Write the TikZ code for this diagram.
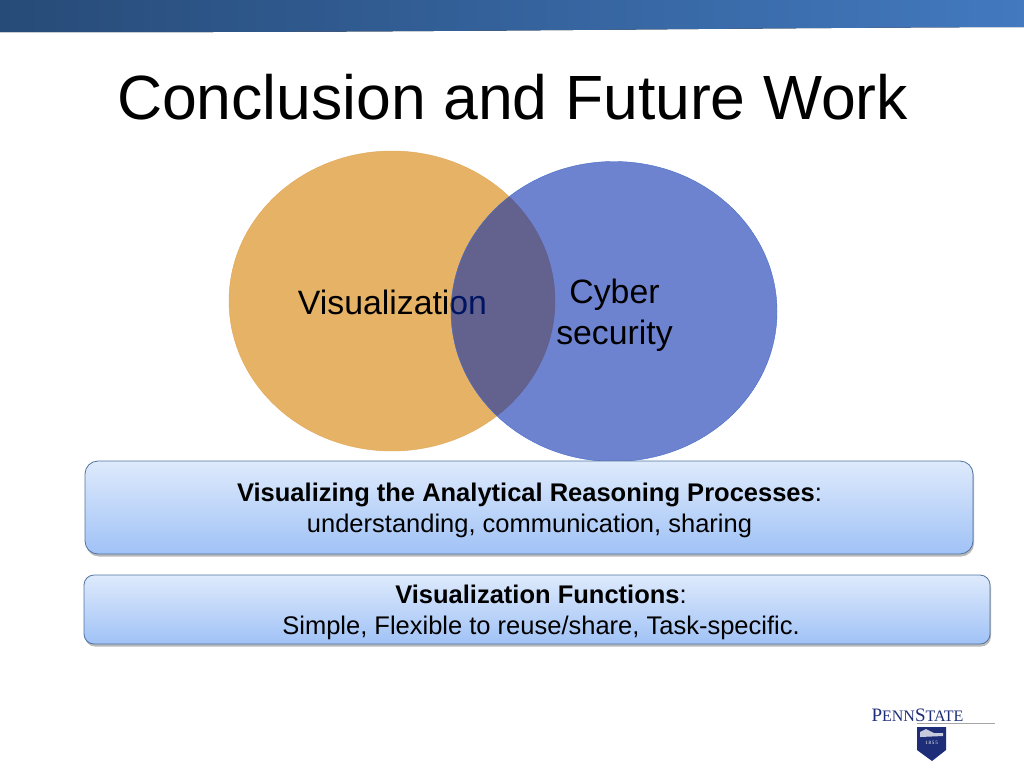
\documentclass[tikz,border=0pt]{standalone}
\usepackage{fontspec}
\setmainfont{Liberation Sans}
\newfontfamily\logofont{Liberation Serif}
\usetikzlibrary{positioning, shapes.geometric, shadows}
\definecolor{bandleft}{RGB}{39,75,120}
\definecolor{bandright}{RGB}{66,121,191}
\definecolor{vizfill}{RGB}{230,179,102}
\definecolor{vizline}{RGB}{226,165,90}
\definecolor{cyberfill}{RGB}{0,37,173}
\definecolor{cyberline}{RGB}{70,110,200}
\definecolor{boxtop}{RGB}{222,234,252}
\definecolor{boxbottom}{RGB}{160,194,246}
\definecolor{boxline}{RGB}{80,115,160}
\definecolor{logoblue}{RGB}{30,45,120}
\tikzset{
x=1pt, y=-1pt, % the picture is laid out in reference pixels
venn/.style={ellipse, minimum width=326pt, minimum height=300pt, inner sep=0pt}, % both circles
vennlabel/.style={font=\fontsize{33.8}{41}\selectfont, align=center, text=black}, % circle texts
infobox/.style={rounded corners=13pt, draw=boxline, thick, top color=boxtop, bottom color=boxbottom,
  drop shadow={shadow xshift=1pt, shadow yshift=-2.5pt, opacity=.55}}, % blue panels
infotext/.style={font=\fontsize{25.5}{31}\selectfont, align=center, text=black}, % panel texts
}
\begin{document}
\begin{tikzpicture}
            \useasboundingbox (0,0) rectangle (1024,768);
            % top band and title
            \fill[left color=bandleft, right color=bandright] (0,0) -- (1024,0) -- (1024,27) .. controls (700,28) and (400,33) .. (0,32) -- cycle;
            \node[font=\fontsize{62.5}{70}\selectfont] (title) at (512.5,97) {Conclusion and Future Work};
            % circles
            \node[venn, fill=vizfill, draw=vizline] (viz) at (392,301) {};
            \node[vennlabel] (vizlabel) at (392.5,302) {Visualization};
            \node[venn, fill=cyberfill, fill opacity=.57, draw=cyberline] (cyber) at (614,311.5) {};
            \node[vennlabel] (cyberlabel) at (614.5,315) {Cyber\\security};
            % panels
            \node[infobox, minimum width=888pt, minimum height=93pt, inner sep=0pt] (panelA) at (529,507.5) {};
            \node[infotext] (panelAtext) at (529.5,510.5) {\textbf{Visualizing the Analytical Reasoning Processes}:\\understanding, communication, sharing};
            \node[infobox, rounded corners=10pt, minimum width=906pt, minimum height=69pt, inner sep=0pt] (panelB) at (537,609.5) {};
            \node[infotext] (panelBtext) at (541,612.5) {\textbf{Visualization Functions}:\\Simple, Flexible to reuse/share, Task-specific.};
            % logo
            \node[font=\logofont\fontsize{19}{19}\selectfont, text=logoblue, inner sep=0pt] (logotext) at (917.5,715) {P\fontsize{16}{16}\selectfont ENN\fontsize{19}{19}\selectfont S\fontsize{16}{16}\selectfont TATE};
            \coordinate (rulestart) at (917,723.5);
            \coordinate (ruleend) at (995,723.5);
            \draw[gray!70, line width=.8pt] (rulestart) -- (ruleend);
            \fill[logoblue] (917,727) -- (946,727) -- (946,750) -- (932,761) -- (917,750) -- cycle;
            \node[font=\logofont\fontsize{5}{5}\selectfont, text=white, inner sep=0pt] (logoyear) at (931.5,743) {1\,8\,5\,5};
            \fill[white!75!logoblue] (920,732) -- (926,729) -- (934,733) -- (943,733) -- (943,736) -- (920,737) -- cycle;
\end{tikzpicture}
\end{document}
